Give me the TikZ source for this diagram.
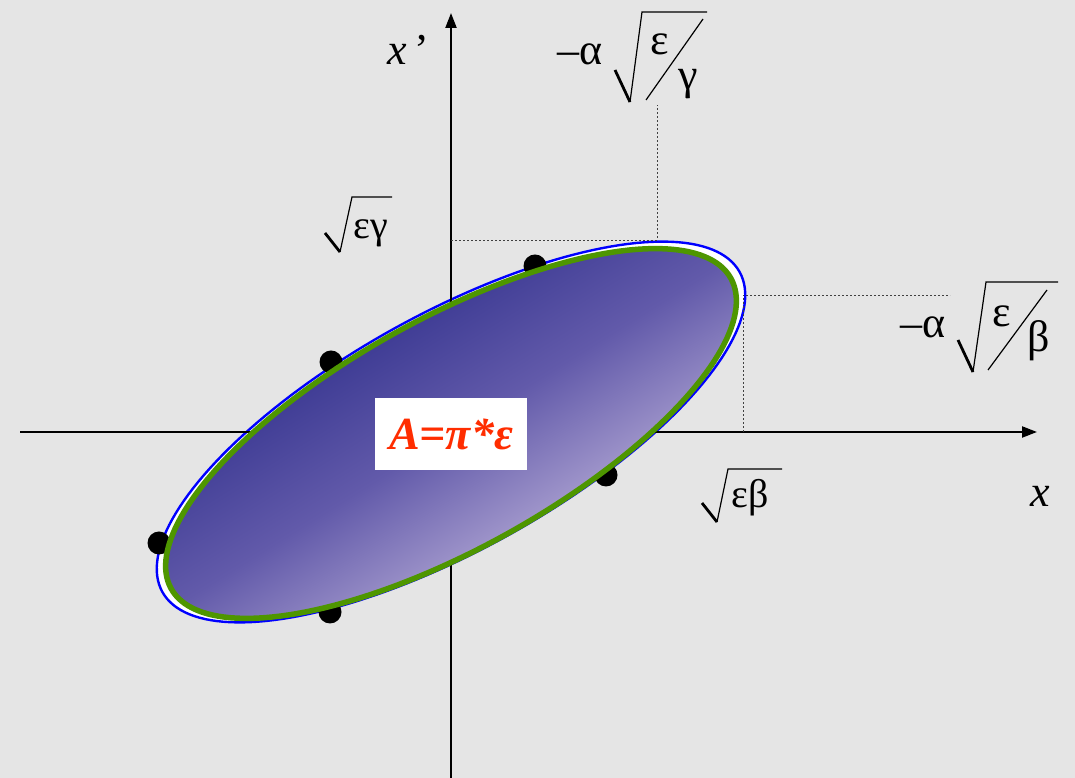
\documentclass[tikz,border=0pt]{standalone}
\usepackage{fontspec}
\setmainfont{Liberation Serif}
\usetikzlibrary{arrows.meta}
\definecolor{bg}{RGB}{229,229,229}
\definecolor{eblue}{RGB}{0,0,255}
\definecolor{egreen}{RGB}{78,150,0}
\definecolor{edark}{RGB}{32,34,130}
\definecolor{emid}{RGB}{98,90,170}
\definecolor{elight}{RGB}{216,204,232}
\definecolor{lbl}{RGB}{255,45,0}
\begin{document}
\begin{tikzpicture}[x=1pt,y=1pt,
  axis/.style={line width=2.2pt, -{Triangle[length=15pt,width=11pt]}},
  guide/.style={line width=0.8pt, dash pattern=on 2pt off 2pt, black!75},
  dot/.style={circle, fill=black, inner sep=0pt, minimum size=23pt},
  big/.style={font=\fontsize{44}{48}\selectfont, inner sep=0pt},
  small/.style={font=\fontsize{40}{44}\selectfont, inner sep=0pt},
  radthin/.style={line width=1.2pt, line join=miter},
  radthick/.style={line width=2.8pt},
]
\fill[bg] (0,0) rectangle (1075,778);
\useasboundingbox (0,0) rectangle (1075,778);
\coordinate (O) at (451,346);
% outer blue ellipse
\draw[eblue, fill=white, line width=2.4pt]
  plot[domain=0:360, samples=181, variable=\t]
  ({451+330*cos(\t)*cos(29)-118*sin(\t)*sin(29)},{346+330*cos(\t)*sin(29)+118*sin(\t)*cos(29)}) -- cycle;
% axes
\coordinate (xs) at (20,346); \coordinate (xe) at (1037,346);
\coordinate (ys) at (451,0);  \coordinate (ye) at (451,765);
\draw[axis] (xs) -- (xe);
\draw[axis] (ys) -- (ye);
% dots
\node[dot] (d1) at (535,512) {};
\node[dot] (d2) at (331,416) {};
\node[dot] (d3) at (159,235) {};
\node[dot] (d4) at (330,166) {};
\node[dot] (d5) at (606,303) {};
% inner shaded ellipse
\path[draw=egreen, line width=5.5pt, top color=edark, bottom color=elight, middle color=emid, shading angle=32]
  plot[domain=0:360, samples=181, variable=\t]
  ({451+320*cos(\t)*cos(29)-115*sin(\t)*sin(29)},{344.5+320*cos(\t)*sin(29)+115*sin(\t)*cos(29)}) -- cycle;
% guide lines
\coordinate (g1) at (451,538); \coordinate (g2) at (657,538); \coordinate (g3) at (657,673);
\coordinate (b1) at (743,483); \coordinate (b2) at (950,483); \coordinate (b3) at (743,346);
\draw[guide] (g1) -- (g2) -- (g3);
\draw[guide] (b3) -- (b1) -- (b2);
% area label
\node[fill=white, minimum width=152pt, minimum height=72pt, inner sep=0pt, text=lbl,
      font=\fontsize{46}{50}\selectfont\bfseries\itshape] (area) at (451,344) {A=π*ε};
% axis labels
\node[big, anchor=base west] (xp) at (387,713) {\textit{x}\,’};
\node[big, anchor=base west] (xl) at (1030,271) {\textit{x}};
% sqrt(eps gamma)
\node[small, anchor=base west] (sg) at (353,539) {εγ};
\coordinate (sg1) at (325,545); \coordinate (sg2) at (340,526); \coordinate (sg3) at (352,581); \coordinate (sg4) at (392,581);
\draw[radthick] (sg1) -- (sg2);
\draw[radthin] (sg2) -- (sg3) -- (sg4);
% sqrt(eps beta)
\node[small, anchor=base west] (sb) at (731,270) {εβ};
\coordinate (sb1) at (702,275); \coordinate (sb2) at (717,256); \coordinate (sb3) at (728,309); \coordinate (sb4) at (782,309);
\draw[radthick] (sb1) -- (sb2);
\draw[radthin] (sb2) -- (sb3) -- (sb4);
% -alpha sqrt(eps/gamma)
\node[big, anchor=base west] (ag) at (557,713) {–α};
\node[big, anchor=base west] (ag1) at (650,723) {ε};
\node[big, anchor=base west] (ag2) at (678,688) {γ};
\coordinate (rg1) at (615,708); \coordinate (rg2) at (630,676); \coordinate (rg3) at (642,766); \coordinate (rg4) at (707,766);
\coordinate (rg5) at (703,759); \coordinate (rg6) at (646,678);
\draw[radthick] (rg1) -- (rg2);
\draw[radthin] (rg2) -- (rg3) -- (rg4);
\draw[radthin] (rg5) -- (rg6);
% -alpha sqrt(eps/beta)
\node[big, anchor=base west] (ab) at (900,440) {–α};
\node[big, anchor=base west] (ab1) at (992,451) {ε};
\node[big, anchor=base west] (ab2) at (1027,426) {β};
\coordinate (rb1) at (958,438); \coordinate (rb2) at (973,406); \coordinate (rb3) at (986,496); \coordinate (rb4) at (1058,496);
\coordinate (rb5) at (1047,488); \coordinate (rb6) at (988,408);
\draw[radthick] (rb1) -- (rb2);
\draw[radthin] (rb2) -- (rb3) -- (rb4);
\draw[radthin] (rb5) -- (rb6);
\end{tikzpicture}
\end{document}
